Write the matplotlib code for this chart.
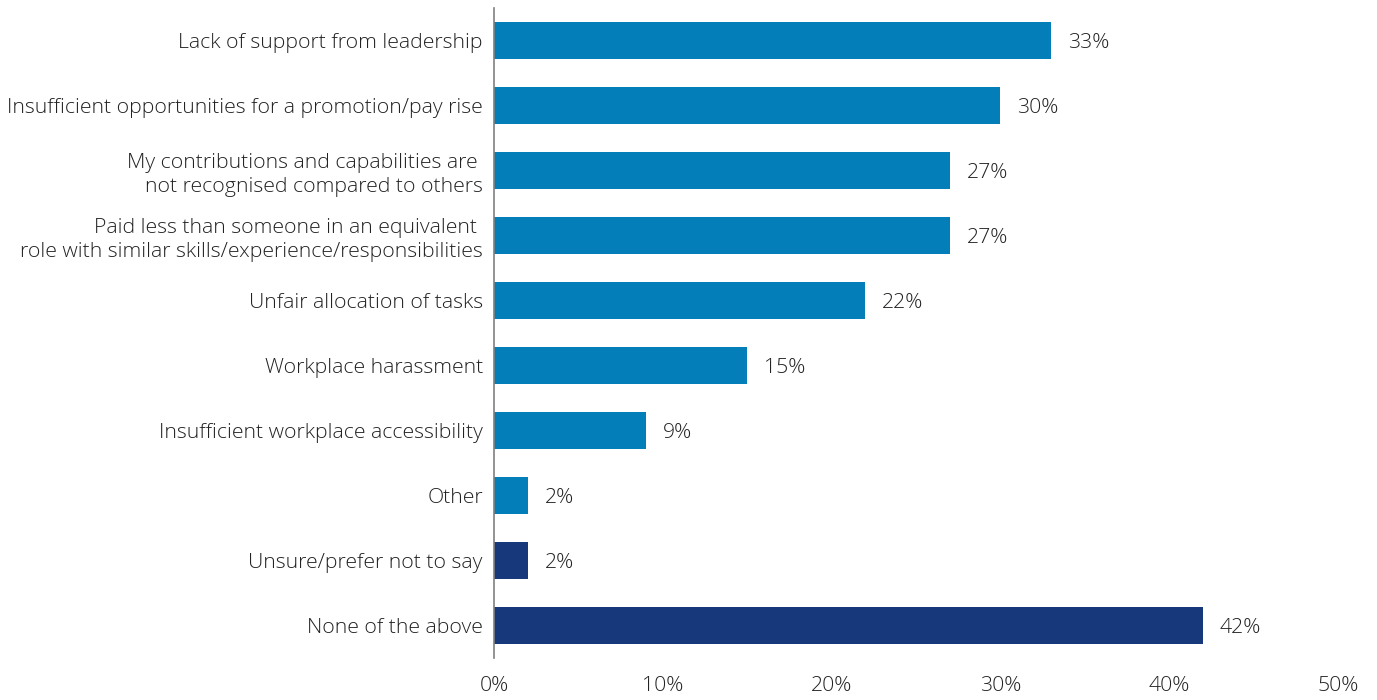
import matplotlib.pyplot as plt
from matplotlib.ticker import FuncFormatter

categories = [
    "Lack of support from leadership",
    "Insufficient opportunities for a promotion/pay rise",
    "My contributions and capabilities are \nnot recognised compared to others",
    "Paid less than someone in an equivalent \nrole with similar skills/experience/responsibilities",
    "Unfair allocation of tasks",
    "Workplace harassment",
    "Insufficient workplace accessibility",
    "Other",
    "Unsure/prefer not to say",
    "None of the above",
]
values = [33, 30, 27, 27, 22, 15, 9, 2, 2, 42]
bar_colors = ["#037EB8"] * 8 + ["#17387A"] * 2

plt.rcParams['font.family'] = ['Open Sans', 'DejaVu Sans']
plt.rcParams['font.weight'] = 'light'
fs = 15.3
txt = '#222222'

fig = plt.figure(figsize=(13.77, 7), dpi=100)
ax = fig.add_axes([0.3587, 0.06, 0.613, 0.9286])

y = range(len(categories))
ax.barh(y, values, height=0.58, color=bar_colors)
for i, v in enumerate(values):
    ax.text(v + 1.0, i + 0.04, f"{v}%", va='center', ha='left', fontsize=fs,
            color=txt, fontweight='light')

ax.set_ylim(len(categories) - 0.5, -0.5)
ax.set_xlim(0, 50)
ax.set_xticks([0, 10, 20, 30, 40, 50])
ax.xaxis.set_major_formatter(FuncFormatter(lambda x, _: f"{x:.0f}%"))
ax.set_yticks(list(y))
ax.set_yticklabels(categories, fontsize=fs, color=txt, fontweight='light',
                   linespacing=1.3)
ax.tick_params(axis='x', length=0, pad=13, labelsize=fs, labelcolor=txt)
ax.tick_params(axis='y', length=0, pad=8)

for side in ['top', 'right', 'bottom']:
    ax.spines[side].set_visible(False)
ax.spines['left'].set_color('#808080')
ax.spines['left'].set_linewidth(1.2)

fig.savefig("out.png", dpi=100)
